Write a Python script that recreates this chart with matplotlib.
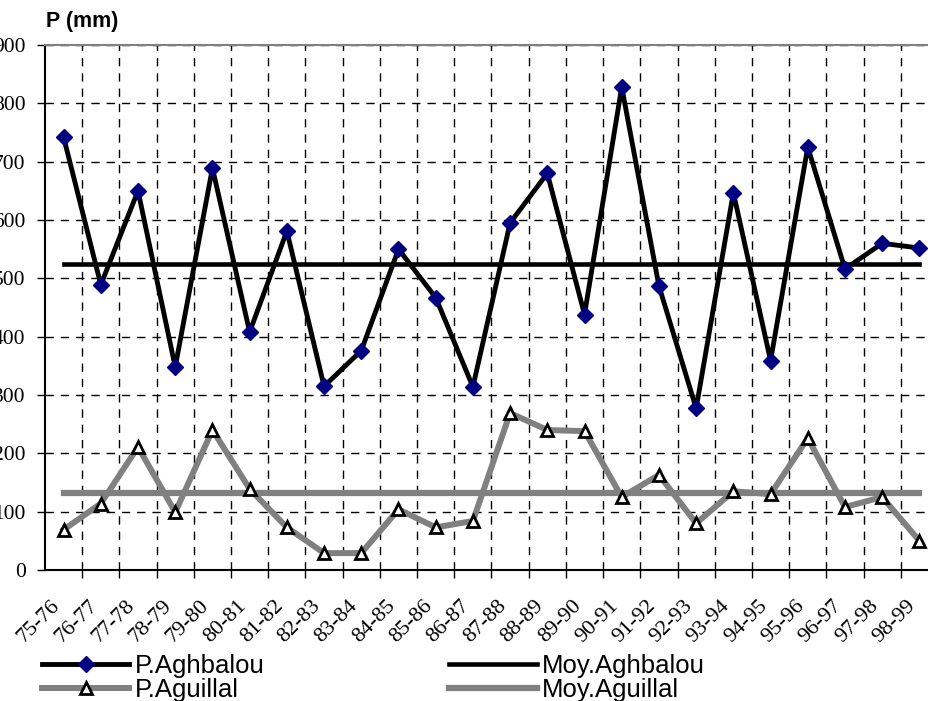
import matplotlib.pyplot as plt
from matplotlib.ticker import MultipleLocator
from matplotlib.transforms import ScaledTranslation
import numpy as np

years = ['75-76', '76-77', '77-78', '78-79', '79-80', '80-81', '81-82', '82-83',
         '83-84', '84-85', '85-86', '86-87', '87-88', '88-89', '89-90', '90-91',
         '91-92', '92-93', '93-94', '94-95', '95-96', '96-97', '97-98', '98-99']
p_aghbalou = [742, 489, 650, 348, 689, 408, 581, 315, 376, 550, 467, 314,
              595, 680, 438, 828, 487, 277, 647, 359, 725, 516, 560, 552]
p_aguillal = [69, 114, 211, 99, 240, 139, 73, 29, 29, 104, 73, 84,
              269, 240, 238, 125, 163, 80, 135, 130, 226, 108, 125, 50]
moy_aghbalou = np.mean(p_aghbalou)
moy_aguillal = np.mean(p_aguillal)

x = np.arange(len(years))

fig = plt.figure(figsize=(9.29, 7.01), dpi=100)
ax = fig.add_axes([45/929, 1 - 570/701, 893/929, 525/701])

ax.plot(x, p_aguillal, color='#808080', lw=4.3, marker='^', ms=8.5,
        mfc='white', mec='black', mew=2, label='P.Aguillal', zorder=3)
ax.plot(x, [moy_aguillal] * len(x), color='#808080', lw=4.5,
        label='Moy.Aguillal', zorder=2)
ax.plot(x, p_aghbalou, color='black', lw=3.5, marker='D', ms=8.5,
        mfc='#000080', mec='#000080', label='P.Aghbalou', zorder=4)
ax.plot(x, [moy_aghbalou] * len(x), color='black', lw=3.3,
        label='Moy.Aghbalou', zorder=2)

ax.set_xlim(-0.5, len(x) - 0.5)
ax.set_ylim(0, 900)
ax.yaxis.set_major_locator(MultipleLocator(100))
ax.set_xticks(x)
ax.set_xticks(x[:-1] + 0.5, minor=True)
ax.tick_params(axis='x', which='major', length=0, pad=19)
ax.tick_params(axis='x', which='minor', length=6, width=1, direction='out')
ax.tick_params(axis='y', length=6, width=1, pad=8)
ax.set_xticklabels(years, rotation=45, ha='right', va='top',
                   rotation_mode='anchor', family='Liberation Serif', fontsize=16)
for lab in ax.get_yticklabels():
    lab.set_family('Liberation Serif')
    lab.set_fontsize(15.5)

ax.grid(axis='y', which='major', ls=(0, (6, 5)), color='black', lw=1)
ax.grid(axis='x', which='minor', ls=(0, (6, 5)), color='black', lw=1)
ax.set_axisbelow(True)
ax.spines['left'].set_linewidth(1.5)
ax.spines['bottom'].set_linewidth(1.5)
ax.spines['top'].set_color('#808080')
ax.spines['top'].set_linewidth(1.5)
ax.spines['right'].set_visible(False)

fig.text(46/929, 1 - 27/701, 'P (mm)', fontsize=15.5, fontweight='bold',
         family='Liberation Sans', va='baseline')

h, l = ax.get_legend_handles_labels()
order = [2, 0, 3, 1]
fig.legend([h[i] for i in order], [l[i] for i in order], ncol=2,
           loc='lower left', bbox_to_anchor=(24/929, -0.027), frameon=False,
           prop={'family': 'Liberation Sans', 'size': 18.5},
           handlelength=3.4, labelspacing=0.0, columnspacing=7.2,
           handletextpad=0.2, borderpad=0.2)

# shift the slanted year labels left, after all tick settings
shift = ScaledTranslation(-13/100, 0, fig.dpi_scale_trans)
for t in ax.xaxis.get_major_ticks():
    t.label1.set_transform(t.label1.get_transform() + shift)

fig.savefig('out.png', dpi=100)
